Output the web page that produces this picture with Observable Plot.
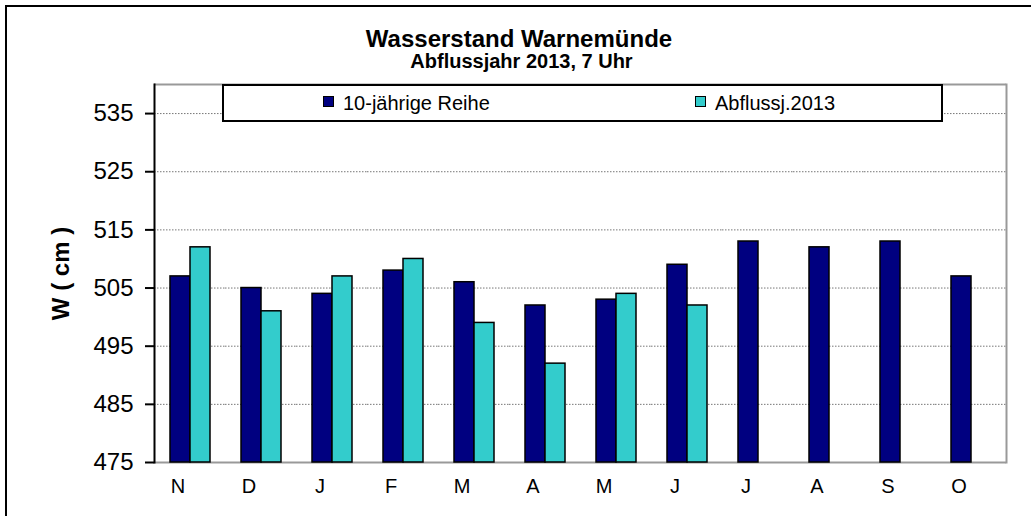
<!DOCTYPE html>
<html>
<head>
<meta charset="utf-8">
<script src="https://cdn.jsdelivr.net/npm/d3@7"></script>
<script src="https://cdn.jsdelivr.net/npm/@observablehq/plot@0.6"></script>
<style>
  body { margin: 0; background: #fff; font-family: "Liberation Sans", Arial, sans-serif; }
  #wrap { position: relative; width: 1031px; height: 516px; overflow: hidden; background: #fff; }
  #border { position: absolute; left: 5px; top: 5px; width: 1100px; height: 700px; border: 2px solid #000; box-sizing: border-box; }
  #chart { position: absolute; left: 0; top: 0; }
  .t { position: absolute; white-space: nowrap; line-height: 1; color: #000; }
  #title { left: 0; width: 1038px; top: 27px; text-align: center; font-weight: bold; font-size: 24px; }
  #subtitle { left: 0; width: 1043px; top: 51px; text-align: center; font-weight: bold; font-size: 20px; }
  #legend { position: absolute; left: 222px; top: 84px; width: 721px; height: 38px; border: 2px solid #000; background: #fff; box-sizing: border-box; }
  .sw { position: absolute; width: 11px; height: 11px; border: 1.5px solid #000; box-sizing: border-box; }
  .lt { font-size: 20px; top: 93px; }
  svg g[aria-label="y-axis label"] text { font-weight: bold; font-size: 24px; }
</style>
</head>
<body>
<div id="wrap">
  <div id="border"></div>
  <div id="chart"></div>
  <div id="title" class="t"></div>
  <div id="subtitle" class="t"></div>
  <div id="legend"></div>
  <div id="sw0" class="sw" style="left:323px;top:96px;"></div>
  <div id="lt0" class="t lt" style="left:343px;"></div>
  <div id="sw1" class="sw" style="left:695px;top:96px;"></div>
  <div id="lt1" class="t lt" style="left:715px;"></div>
</div>
<script>
// ---- data ----
const titleText = "Wasserstand Warnemünde";
const subtitleText = "Abflussjahr 2013, 7 Uhr";
const yLabel = "W ( cm )";
const months = ["Nov", "Dez", "Jan", "Feb", "Mär", "Apr", "Mai", "Jun", "Jul", "Aug", "Sep", "Okt"];
const monthLabels = ["N", "D", "J", "F", "M", "A", "M", "J", "J", "A", "S", "O"];
const seriesNames = ["10-jährige Reihe", "Abflussj.2013"];
const reihe10 = [507, 505, 504, 508, 506, 502, 503, 509, 513, 512, 513, 507];
const abfluss2013 = [512, 501, 507, 510, 499, 492, 504, 502, null, null, null, null];
const yTicks = [475, 485, 495, 505, 515, 525, 535];
const yDomain = [475, 540];
const seriesColors = ["#000080", "#33CCCC"];

// ---- table ----
const rows = [];
months.forEach((m, i) => {
  rows.push({month: m, series: seriesNames[0], value: reihe10[i]});
  if (abfluss2013[i] != null) rows.push({month: m, series: seriesNames[1], value: abfluss2013[i]});
});
const labelOf = new Map(months.map((m, i) => [m, monthLabels[i]]));

document.getElementById("title").textContent = titleText;
document.getElementById("subtitle").textContent = subtitleText;
document.getElementById("lt0").textContent = seriesNames[0];
document.getElementById("lt1").textContent = seriesNames[1];
document.getElementById("sw0").style.background = seriesColors[0];
document.getElementById("sw1").style.background = seriesColors[1];

const chart = Plot.plot({
  width: 1031,
  height: 516,
  marginLeft: 150,
  marginRight: 22,
  marginTop: 84,
  marginBottom: 54,
  style: {fontFamily: "Liberation Sans, Arial, sans-serif", fontSize: "20px", background: "transparent", color: "#000", overflow: "visible"},
  fx: {domain: months, padding: 0, axis: null, label: null},
  x: {domain: seriesNames, paddingInner: 0, paddingOuter: 0.704, axis: null},
  y: {domain: yDomain, axis: null},
  color: {domain: seriesNames, range: seriesColors},
  marks: [
    Plot.ruleY(yTicks.filter(v => v > yDomain[0]), {stroke: "#777", strokeWidth: 1, strokeDasharray: "1.5,1.5"}),
    Plot.ruleY([yDomain[1]], {stroke: "#999", strokeWidth: 2}),
    Plot.ruleY([yDomain[0]], {stroke: "#999", strokeWidth: 2}),
    Plot.frame({anchor: "right", facetAnchor: "right", stroke: "#999", strokeWidth: 2}),
    Plot.barY(rows, {fx: "month", x: "series", y1: yDomain[0], y2: "value", fill: "series", stroke: "#000", strokeWidth: 1.5}),
    Plot.axisFx({anchor: "bottom", tickSize: 0, tickPadding: 16, fontSize: 20, label: null, tickFormat: d => labelOf.get(d), dx: -12}),
    Plot.axisY(yTicks, {anchor: "left", tickSize: 9, tickPadding: 12, strokeWidth: 2, fontSize: 24, label: yLabel, labelAnchor: "center", labelOffset: 103, labelArrow: "none"}),
    Plot.frame({anchor: "left", facetAnchor: "left", stroke: "#000", strokeWidth: 2})
  ]
});
document.getElementById("chart").appendChild(chart);
</script>
</body>
</html>
